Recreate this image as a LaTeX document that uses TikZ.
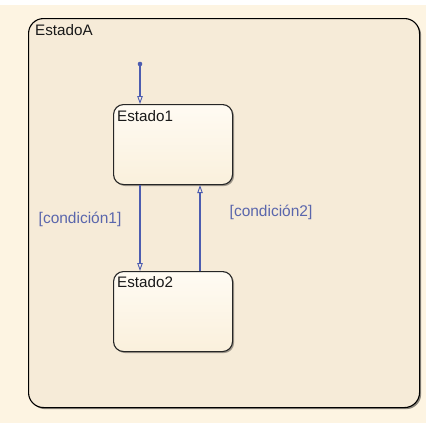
\documentclass[tikz,border=0pt]{standalone}
\usepackage{fontspec}
\setmainfont{Liberation Sans}
\usetikzlibrary{arrows.meta,shadows}
\definecolor{pagebg}{HTML}{FDF4E2}
\definecolor{chartbg}{HTML}{F6EBD8}
\definecolor{stateTop}{HTML}{FFFBF3}
\definecolor{stateBot}{HTML}{FAF0DC}
\definecolor{transblue}{HTML}{4C5CB0}
\definecolor{labelblue}{HTML}{5A66AC}
\tikzset{
  chartbox/.style={draw=black, line width=1.1pt, rounded corners=15pt, fill=chartbg,
    drop shadow={shadow xshift=1.6pt, shadow yshift=-1.6pt, fill=black, opacity=.45},
    inner sep=0pt, anchor=north west},
  statebox/.style={draw=black!85, line width=1.1pt, rounded corners=10pt,
    top color=stateTop, bottom color=stateBot,
    drop shadow={shadow xshift=1.5pt, shadow yshift=-1.5pt, fill=black, opacity=.35},
    minimum width=119pt, minimum height=80pt, inner sep=0pt, anchor=north west},
  title/.style={anchor=base west, inner sep=0pt, font=\fontsize{15.2}{17}\selectfont, text=black!90},
  trans/.style={draw=transblue, line width=1.2pt,
    -{Triangle[open, length=8pt, width=5.5pt, line width=0.9pt]}},
  guard/.style={anchor=base west, inner sep=0pt, font=\fontsize{15.5}{17}\selectfont, text=labelblue},
}
\begin{document}
\begin{tikzpicture}[x=1pt, y=-1pt]
  % page
  \fill[pagebg] (0,0) rectangle (426,423);
  \fill[white] (0,0) rectangle (426,5);
  \useasboundingbox (0,0) rectangle (426,423);

  % superstate
  \node[chartbox, minimum width=391pt, minimum height=389pt] (A) at (28,18) {};
  \node[title] (Alabel) at (35,35.5) {EstadoA};

  % substates
  \node[statebox] (s1) at (113,104) {};
  \node[title] (s1label) at (117,121.5) {Estado1};
  \node[statebox] (s2) at (113,271) {};
  \node[title] (s2label) at (117,287) {Estado2};

  % default transition
  \coordinate (dflt) at (140,64);
  \fill[transblue] (dflt) circle (2.3pt);
  \draw[trans] (dflt) -- (dflt |- s1.north);

  % transitions between states
  \coordinate (down) at (140,0);
  \coordinate (up) at (200,0);
  \draw[trans] (down |- s1.south) -- (down |- s2.north);
  \draw[trans] (up |- s2.north) -- (up |- s1.south);

  % guards
  \node[guard] (g1) at (38.5,223) {[condición1]};
  \node[guard] (g2) at (229.5,216.5) {[condición2]};
\end{tikzpicture}
\end{document}
